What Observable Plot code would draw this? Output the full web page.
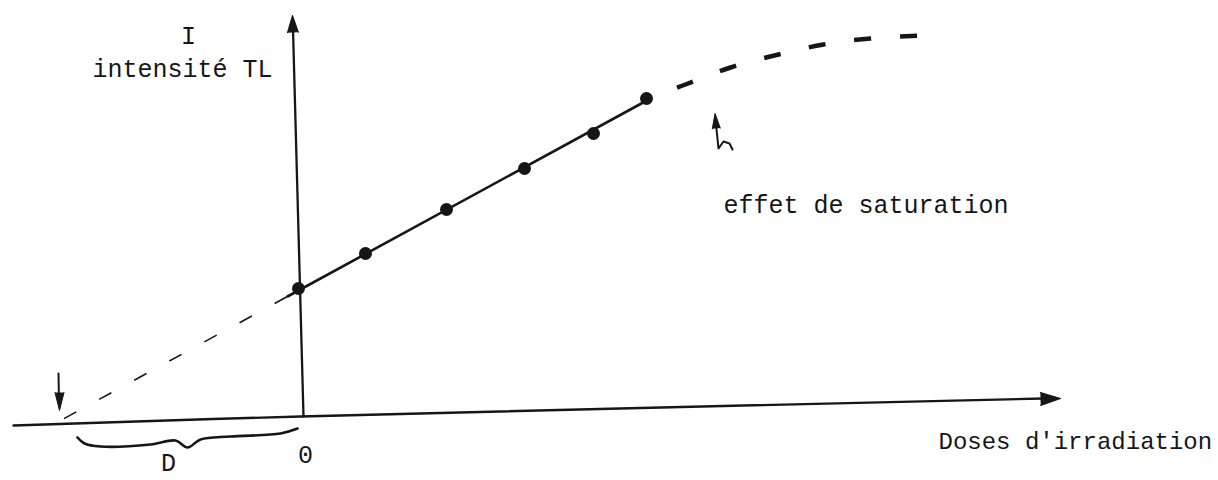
<!DOCTYPE html>
<html>
<head>
<meta charset="utf-8">
<script src="https://cdn.jsdelivr.net/npm/d3@7"></script>
<script src="https://cdn.jsdelivr.net/npm/@observablehq/plot@0.6"></script>
<style>
  html, body { margin: 0; padding: 0; background: #fff; }
  #chart svg { display: block; }
</style>
</head>
<body>
<div id="chart"></div>
<script>
// ---- measured points (dose, TL intensity), arbitrary units ----
const doses = [0, 0.67, 1.48, 2.26, 2.95, 3.48];
const intensities = [1.29, 1.64, 2.08, 2.49, 2.84, 3.19];

// fitted straight line through the points
const fitDose = [-0.11, 3.52];
const fitIntensity = [1.21, 3.19];

// extrapolation of the line down to the dose axis (paleodose D)
const extrapDose = [-2.38, 0];
const extrapIntensity = [-0.03, 1.27];

// saturation region (dashed)
const saturationDose = [3.52, 3.87, 4.32, 4.80, 5.25, 5.72, 6.24];
const saturationIntensity = [3.21, 3.33, 3.50, 3.63, 3.73, 3.79, 3.82];

// hand-drawn axes
const doseAxisX = [-2.85, 0.02, 7.45];
const doseAxisY = [-0.08, 0.01, 0.19];
const intensityAxisX = [0.05, -0.055];
const intensityAxisY = [0.01, 3.88];

// brace under D
const braceX = [-2.21, -2.14, -1.98, -1.48, -1.23, -1.11, -0.98, -0.68, -0.18, -0.01];
const braceY = [-0.20, -0.26, -0.29, -0.27, -0.23, -0.30, -0.22, -0.19, -0.16, -0.11];

// small arrows: D marker and saturation pointer
const dArrowX = [-2.40, -2.395];
const dArrowY = [0.44, 0.15];
const satArrowX = [4.34, 4.31, 4.25, 4.20, 4.17];
const satArrowY = [2.68, 2.74, 2.76, 2.69, 2.98];

// arrowheads: tip position, direction (deg clockwise from up), length, half-width
const headX = [-0.06, 7.62, -2.39, 4.165];
const headY = [4.02, 0.19, 0.07, 3.04];
const headAngle = [-1.5, 88.6, 180, -5];
const headLength = [17, 20, 18, 15];
const headRadius = [5.5, 6.5, 4.5, 4];

// labels
const labelsMiddle = ["I", "0", "D"];
const labelsMiddleX = [-1.10, 0.07, -1.30];
const labelsMiddleY = [3.74, -0.45, -0.535];
const labelsStart = ["intensité TL", "effet de saturation"];
const labelsStartX = [-2.06, 4.25];
const labelsStartY = [3.41, 2.05];
const doseLabel = ["Doses d'irradiation"];
const doseLabelX = [6.40];
const doseLabelY = [-0.31];

const ink = "#161616";
const pts = (xs, ys) => xs.map((x, i) => ({x, y: ys[i]}));

const heads = headX.map((x, i) => Plot.vector([{x, y: headY[i]}], {
  x: "x", y: "y", shape: "spike", anchor: "end",
  rotate: headAngle[i], length: headLength[i], r: headRadius[i],
  fill: ink, stroke: ink, strokeWidth: 1
}));

const plot = Plot.plot({
  width: 1218,
  height: 480,
  margin: 0,
  x: {domain: [-2.98, 9.20], axis: null},
  y: {domain: [-0.63, 4.17], axis: null},
  style: {background: "#fff", color: ink, fontFamily: "'Liberation Mono', 'DejaVu Sans Mono', monospace"},
  marks: [
    Plot.line(pts(doseAxisX, doseAxisY), {x: "x", y: "y", stroke: ink, strokeWidth: 2.4, curve: "catmull-rom"}),
    Plot.line(pts(intensityAxisX, intensityAxisY), {x: "x", y: "y", stroke: ink, strokeWidth: 2.3}),
    Plot.line(pts(extrapDose, extrapIntensity), {x: "x", y: "y", stroke: ink, strokeWidth: 1.6, strokeDasharray: "14,26", strokeDashoffset: 36, strokeLinecap: "butt"}),
    Plot.line(pts(fitDose, fitIntensity), {x: "x", y: "y", stroke: ink, strokeWidth: 2.6}),
    Plot.line(pts(saturationDose, saturationIntensity), {x: "x", y: "y", stroke: ink, strokeWidth: 4.5, curve: "natural", strokeDasharray: "17,29", strokeDashoffset: 18, strokeLinecap: "butt"}),
    Plot.dot(pts(doses, intensities), {x: "x", y: "y", r: 6.5, fill: ink, stroke: "none"}),
    Plot.line(pts(braceX, braceY), {x: "x", y: "y", stroke: ink, strokeWidth: 2.6, curve: "catmull-rom"}),
    Plot.line(pts(dArrowX, dArrowY), {x: "x", y: "y", stroke: ink, strokeWidth: 2}),
    Plot.line(pts(satArrowX, satArrowY), {x: "x", y: "y", stroke: ink, strokeWidth: 2}),
    ...heads,
    Plot.text(labelsMiddle.map((t, i) => ({t, x: labelsMiddleX[i], y: labelsMiddleY[i]})), {
      x: "x", y: "y", text: "t", textAnchor: "middle", lineAnchor: "bottom", fontSize: 25, fill: ink
    }),
    Plot.text(labelsStart.map((t, i) => ({t, x: labelsStartX[i], y: labelsStartY[i]})), {
      x: "x", y: "y", text: "t", textAnchor: "start", lineAnchor: "bottom", fontSize: 25, fill: ink
    }),
    Plot.text(doseLabel.map((t, i) => ({t, x: doseLabelX[i], y: doseLabelY[i]})), {
      x: "x", y: "y", text: "t", textAnchor: "start", lineAnchor: "bottom", fontSize: 24, fill: ink
    })
  ]
});
document.getElementById("chart").appendChild(plot);
</script>
</body>
</html>
